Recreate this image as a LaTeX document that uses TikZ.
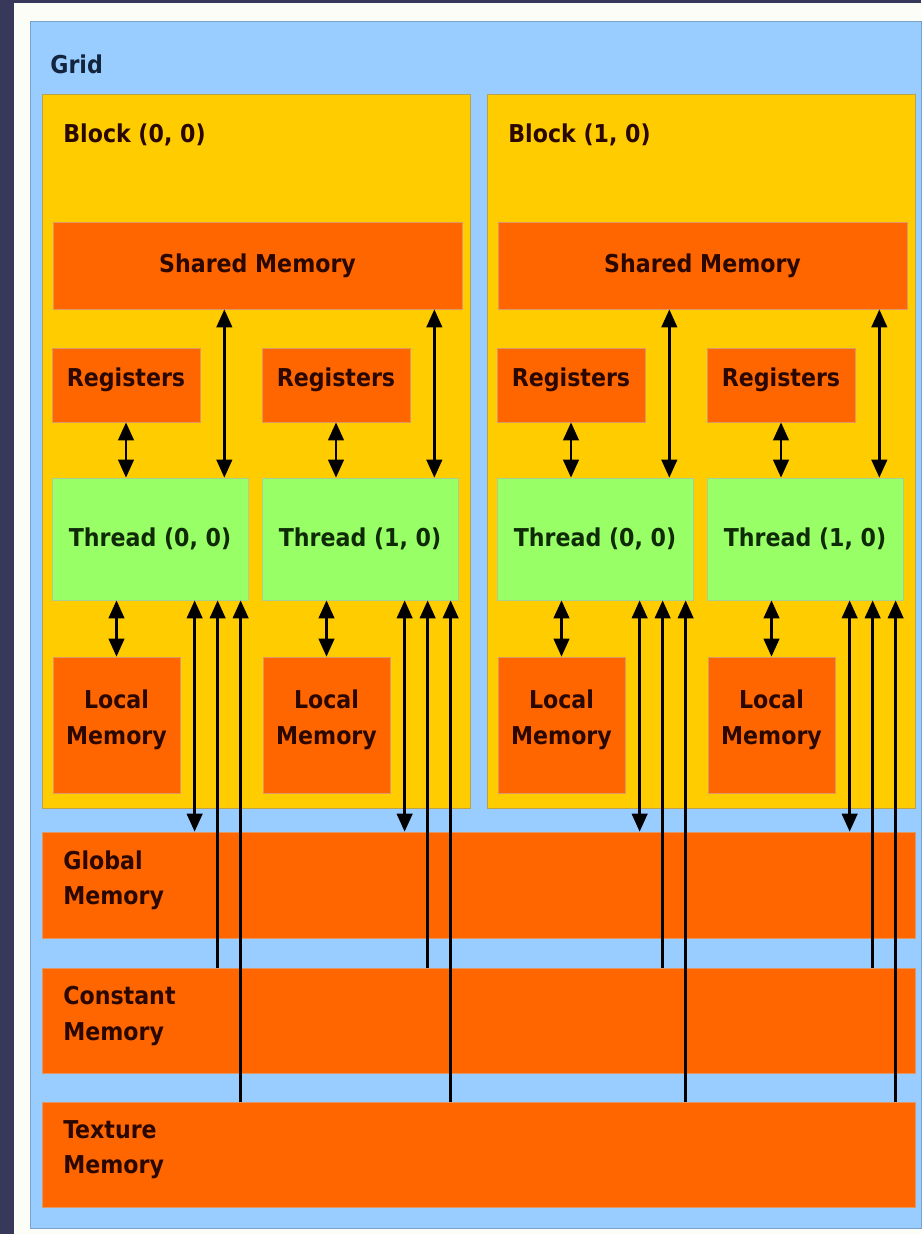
\documentclass[tikz,border=0pt]{standalone}
\usepackage{fontspec}
\setmainfont{DejaVu Sans Condensed}
\usepackage{tikz}
\usetikzlibrary{arrows.meta,positioning}
\definecolor{slidenavy}{HTML}{38385A}
\definecolor{framewhite}{HTML}{FDFDF8}
\definecolor{gridblue}{HTML}{99CCFF}
\definecolor{blockyellow}{HTML}{FFCC00}
\definecolor{memorange}{HTML}{FF6600}
\definecolor{thrgreen}{HTML}{99FF66}
\definecolor{inkbrown}{HTML}{2A0800}
\definecolor{inkgreen}{HTML}{0E2A06}
\definecolor{inknavy}{HTML}{14243C}
\tikzset{
  mem/.style={draw=memorange!80!black!60, line width=0.4pt, fill=memorange,
              inner sep=0pt, font=\fontsize{14}{20}\selectfont\bfseries,
              text=inkbrown, align=center},
  thr/.style={draw=thrgreen!70!black!60, line width=0.4pt, fill=thrgreen,
              inner sep=0pt, font=\fontsize{14}{20}\selectfont\bfseries,
              text=inkgreen},
  blk/.style={draw=blockyellow!60!black!70, line width=0.4pt, fill=blockyellow,
              inner sep=0pt},
  lbl/.style={anchor=west, inner sep=0pt, align=left,
              font=\fontsize{14}{20}\selectfont\bfseries, text=inkbrown},
  both/.style={{Triangle[length=3.6mm,width=3.1mm]}-{Triangle[length=3.6mm,width=3.1mm]},
               line width=1.5pt, draw=black},
  upto/.style={-{Triangle[length=3.6mm,width=3.1mm]}, line width=1.5pt, draw=black},
}
\newcommand{\lift}{\rule[-9pt]{0pt}{9pt}}

\begin{document}
\begin{tikzpicture}[x=0.02cm, y=-0.02cm]
% ---------------- backdrop and grid frame --------------------------------
\fill[slidenavy] (0,0) rectangle (921,1234);
\fill[framewhite] (14,3) rectangle (921,1234);
\node[fill=gridblue, draw=gridblue!80!black, inner sep=0pt,
      minimum width=17.82cm, minimum height=24.14cm] (grid) at (475.5,624.5) {};
\node[lbl, text=inknavy] (gridlbl) at (50,64) {Grid};

% ---------------- memories shared by the whole grid ----------------------
\node[mem, minimum width=17.46cm, minimum height=2.12cm] (gm) at (478.5,885) {};
\node[mem, minimum width=17.46cm, minimum height=2.1cm] (cm) at (478.5,1020.5) {};
\node[mem, minimum width=17.46cm, minimum height=2.1cm] (tm) at (478.5,1154.5) {};
\node[lbl] (gmlbl) at (63,880) {Global\\Memory};
\node[lbl] (cmlbl) at (63,1016) {Constant\\Memory};
\node[lbl] (tmlbl) at (63,1150) {Texture\\Memory};

% ---------------- the two blocks -----------------------------------------
\foreach \b in {0,1}{
\begin{scope}[shift={(\b*445,0)}]
  \node[blk, minimum width=8.56cm, minimum height=14.28cm] (blk\b) at (256,451) {};
  \node[lbl] (blklbl\b) at (63,135) {Block (\b, 0)};
  \node[mem, minimum width=8.18cm, minimum height=1.74cm] (sh\b) at (257.5,265.5)
    {Shared Memory};
  \foreach \t in {0,1}{
  \begin{scope}[shift={(\t*210,0)}]
    \node[mem, minimum width=2.96cm, minimum height=1.48cm] (rg\b\t) at (126,385)
      {Registers\lift};
    \node[thr, minimum width=3.92cm, minimum height=2.44cm] (th\b\t) at (150,539)
      {Thread (\t, 0)};
    \node[mem, minimum width=2.54cm, minimum height=2.72cm] (lm\b\t) at (116.5,725)
      {Local\\Memory\lift};
  \end{scope}
  % arrows of thread (\t, 0)
  \coordinate (s\b\t) at ([xshift=-4.8mm]th\b\t.north east);
  \coordinate (g\b\t) at ([xshift=28.6mm]th\b\t.south west);
  \coordinate (c\b\t) at ([xshift=33.2mm]th\b\t.south west);
  \coordinate (x\b\t) at ([xshift=37.8mm]th\b\t.south west);
  \draw[both] (rg\b\t.south) -- (rg\b\t.south |- th\b\t.north);
  \draw[both] (s\b\t |- sh\b.south) -- (s\b\t);
  \draw[both] (th\b\t.south -| lm\b\t.north) -- (lm\b\t.north);
  \draw[both] (g\b\t) -- (g\b\t |- gm.north);
  \draw[upto] (c\b\t |- cm.north) -- (c\b\t);
  \draw[upto] (x\b\t |- tm.north) -- (x\b\t);
  }
\end{scope}
}
\end{tikzpicture}
\end{document}
